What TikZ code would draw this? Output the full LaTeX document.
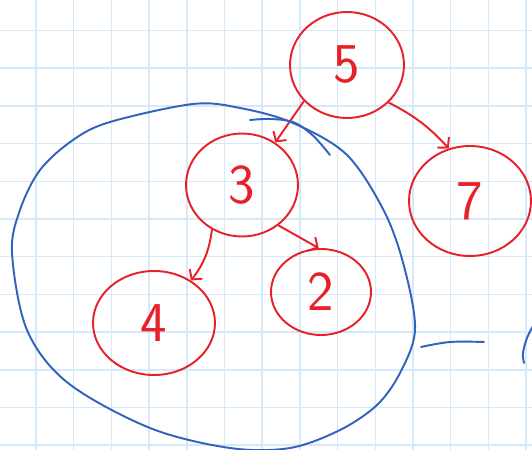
\documentclass[tikz,border=0pt]{standalone}
\usepackage{tikz}
\usetikzlibrary{arrows.meta,shapes.geometric}
\definecolor{inkred}{RGB}{232,32,40}
\definecolor{inkblue}{RGB}{48,98,190}
\definecolor{gridblue}{RGB}{212,234,250}

\begin{document}
\begin{tikzpicture}[
  x=0.02cm, y=-0.02cm,
  vert/.style={ellipse,draw=inkred,line width=1.1pt,inner sep=0pt,
               text=inkred,font=\sffamily\fontsize{32}{32}\selectfont},
  link/.style={draw=inkred,line width=1.1pt,
               -{Straight Barb[length=4pt,width=9pt]}},
  lasso/.style={draw=inkblue,line width=1.1pt,line cap=round},
  gridline/.style={draw=gridblue,line width=0.9pt}
]

%% ── Paper and squared grid ──
\fill[white] (0,0) rectangle (532,450);
\useasboundingbox (0,0) rectangle (532,450);
\foreach \i in {0,...,13}
  \draw[gridline] (36+37.7*\i,0) -- (36+37.7*\i,450);
\foreach \j in {0,...,11}
  \draw[gridline] (0,30.5+37.7*\j) -- (532,30.5+37.7*\j);

%% ── Tree vertices (all at explicit absolute coordinates) ──
\node[vert, minimum width=2.28cm, minimum height=2.12cm] (n5) at (347,65)  {5};
\node[vert, minimum width=2.24cm, minimum height=2.06cm] (n3) at (242,185) {3};
\node[vert, minimum width=2.44cm, minimum height=2.20cm] (n7) at (470,201) {7};
\node[vert, minimum width=2.44cm, minimum height=2.08cm] (n4) at (154,323) {4};
\node[vert, minimum width=2.00cm, minimum height=1.72cm] (n2) at (321,292) {2};

%% ── Edges ──
\draw[link] (n5.220) -- (n3.52);
\draw[link] (n5.318) to[bend left=10] (n7.112);
\draw[link] (n3.312) -- (n2.93);
\draw[link] (n3.236) to[bend left=15] (n4.49);

%% ── Blue lasso round the subtree of 3 ──
\draw[lasso] plot[smooth cycle, tension=0.55] coordinates {
  (193,104) (240,108) (293,123) (347,155) (385,213) (405,270)
  (415,330) (400,373) (377,405) (340,430) (290,448) (230,448)
  (150,428) (68,383) (27,330) (12,253) (20,210) (40,170)
  (73,140) (110,122)};

% second stroke at the top of the lasso
\draw[lasso] plot[smooth, tension=0.6] coordinates {
  (250,120) (270,119) (293,122) (310,133) (320,143) (330,155)};

%% ── Marks at the right edge ──
\draw[lasso] plot[smooth, tension=0.6] coordinates {(421,347) (450,342) (484,342)};
\draw[lasso] plot[smooth, tension=0.6] coordinates {(533,326) (527,338) (523,353) (524,363)};

\end{tikzpicture}
\end{document}
